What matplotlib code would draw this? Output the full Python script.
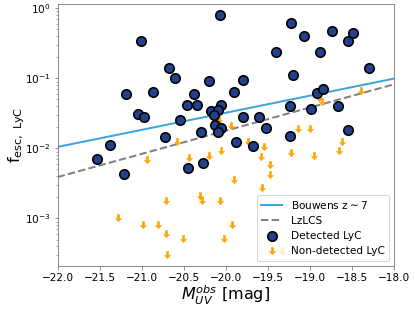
import numpy as np
import matplotlib
matplotlib.use("Agg")
import matplotlib.pyplot as plt
from matplotlib.lines import Line2D
from matplotlib.path import Path
from matplotlib.legend_handler import HandlerBase

# detected LyC (circles)
det_M = [-20.07, -21.01, -20.68, -20.60, -20.20, -21.19, -20.87, -20.38, -20.46, -20.34,
         -20.06, -21.05, -20.97, -20.55, -20.18, -20.09, -20.14, -20.13, -20.06, -20.09,
         -20.29, -20.72, -21.38, -21.53, -21.21, -20.45, -20.27, -19.22, -19.07, -18.74,
         -18.48, -18.54, -19.40, -18.88, -18.29, -19.80, -19.20, -19.90, -18.92, -18.84,
         -19.24, -18.99, -18.67, -19.80, -19.60, -19.52, -18.55, -19.24, -19.88, -19.67]
det_f = [0.79, 0.337, 0.139, 0.100, 0.0927, 0.0601, 0.0642, 0.0605, 0.0419, 0.0415,
         0.0412, 0.0309, 0.0277, 0.0258, 0.0344, 0.0349, 0.0296, 0.0216, 0.0194, 0.0172,
         0.0170, 0.0144, 0.0113, 0.00702, 0.00432, 0.00529, 0.00624, 0.615, 0.402, 0.478,
         0.443, 0.337, 0.238, 0.235, 0.142, 0.0958, 0.110, 0.064, 0.0615, 0.0709,
         0.0408, 0.0364, 0.0399, 0.0282, 0.0282, 0.0193, 0.0183, 0.0148, 0.0123, 0.0107]

# non-detected LyC (upper limits, value = top of arrow)
lim_M = [-20.58, -20.94, -20.44, -20.20, -20.06, -20.71, -20.31, -20.28, -20.07, -21.28,
         -20.99, -20.81, -20.71, -20.51, -20.02, -20.70, -20.08, -18.39, -18.89, -18.86,
         -19.14, -19.00, -18.62, -19.94, -19.73, -19.54, -19.22, -18.95, -18.65, -19.58,
         -19.47, -19.47, -19.90, -19.57, -19.92]
lim_f = [0.0141, 0.0078, 0.00832, 0.00897, 0.0105, 0.00199, 0.00242, 0.00205, 0.00199, 0.00116,
         0.000924, 0.000924, 0.000688, 0.00058, 0.00058, 0.000348, 0.0289, 0.0757, 0.059, 0.0522,
         0.0218, 0.0213, 0.0141, 0.0236, 0.0143, 0.0119, 0.0097, 0.0089, 0.0105, 0.0085,
         0.00662, 0.00469, 0.00408, 0.00308, 0.000924]

# relations (end points)
bouwens_M = [-22.0, -18.0]
bouwens_f = [0.0105, 0.099]
lzlcs_M = [-22.0, -18.0]
lzlcs_f = [0.0039, 0.082]

# down arrow marker (origin at top)
arrow = Path([(-0.16, 0), (0.16, 0), (0.16, -0.55), (0.42, -0.55), (0, -1),
              (-0.42, -0.55), (-0.16, -0.55), (-0.16, 0)],
             [Path.MOVETO] + [Path.LINETO] * 6 + [Path.CLOSEPOLY])
arrow_style = dict(ls='none', marker=arrow, ms=14.5, color='orange', mec='orange', mew=0.5)


class ArrowHandler(HandlerBase):
    # one solid arrow in the middle, a faded one at the right end
    def create_artists(self, legend, orig_handle, xdescent, ydescent,
                       width, height, fontsize, trans):
        y = (height - ydescent) / 2 + 3.5
        a1 = Line2D([width / 2 - xdescent], [y], transform=trans, **arrow_style)
        a2 = Line2D([width - xdescent], [y], transform=trans, alpha=0.2, **arrow_style)
        return [a1, a2]


plt.rcParams['axes.edgecolor'] = '0.45'

fig = plt.figure(figsize=(415 / 72, 311 / 72), dpi=72)
ax = fig.add_axes([0.139, 0.145, 0.810, 0.842])

l1, = ax.plot(bouwens_M, bouwens_f, color='#3ca5dd', lw=2, zorder=2)
l2, = ax.plot(lzlcs_M, lzlcs_f, color='gray', ls='--', lw=2, zorder=2)

ar, = ax.plot(lim_M, lim_f, zorder=3, **arrow_style)

sc = ax.scatter(det_M, det_f, s=90, color='#22418a', edgecolors='black', linewidths=1.6,
                zorder=4)

ax.set_yscale('log')
ax.set_xlim(-22, -18)
ax.set_ylim(2.1e-4, 1.15)
ax.set_xticks(np.arange(-22, -17.9, 0.5))
ax.tick_params(labelsize=10.5, colors='0.45', labelcolor='black')
ax.tick_params(which='minor', colors='0.45')

ax.set_xlabel(r'$M_{UV}^{obs}$ [mag]', fontsize=16, labelpad=1)
ax.set_ylabel(r'$\mathrm{f_{esc,\ LyC}}$', fontsize=16, labelpad=-2)

ax.legend([l1, l2, sc, ar],
          [r'Bouwens z$\sim$7', 'LzLCS', 'Detected LyC', 'Non-detected LyC'],
          handler_map={ar: ArrowHandler()},
          loc='lower right', fontsize=10.5)

fig.savefig('out.png', dpi=72)
